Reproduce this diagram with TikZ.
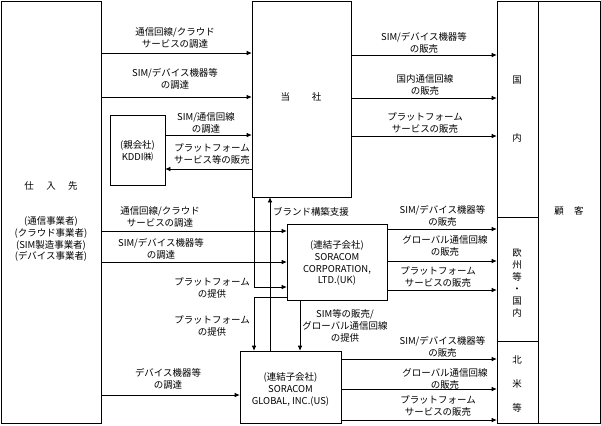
\documentclass[tikz,border=0pt]{standalone}
\usepackage{fontspec}
\newfontfamily\jp{Noto Sans CJK JP}
\usetikzlibrary{arrows.meta}
\begin{document}
\begin{tikzpicture}[x=1bp,y=-1bp,
  box/.style={draw,line width=0.6bp,inner sep=0pt},
  txt/.style={font=\jp\fontsize{9.5}{12}\selectfont,align=center,inner sep=0pt},
  arr/.style={line width=0.6bp,-{Latex[length=5bp,width=4.5bp]}},
  ln/.style={line width=0.6bp}]
\useasboundingbox (0,0) rectangle (601,425);
% boxes
\node[box,minimum width=100bp,minimum height=422bp] (sup) at (51,212) {};
\node[box,minimum width=99bp,minimum height=196bp] (toh) at (301.5,99) {};
\node[box,minimum width=55bp,minimum height=70bp] (kddi) at (137.5,150) {};
\node[box,minimum width=100bp,minimum height=76bp] (uk) at (337,262) {};
\node[box,minimum width=101bp,minimum height=72bp] (us) at (290.5,387) {};
\node[box,minimum width=41bp,minimum height=216bp] (dom) at (517.5,109) {};
\node[box,minimum width=41bp,minimum height=124bp] (eu) at (517.5,279) {};
\node[box,minimum width=41bp,minimum height=82bp] (na) at (517.5,382) {};
\node[box,minimum width=62bp,minimum height=422bp] (cust) at (569,212) {};
% box texts
\node[txt] (supname) at (51,186) {仕\hspace{1.3em}入\hspace{1.3em}先};
\node[txt] (supkind) at (51,239) {(通信事業者)\\(クラウド事業者)\\(SIM製造事業者)\\(デバイス事業者)};
\node[txt] (tohname) at (301,97) {当\hspace{2.3em}社};
\node[txt] (kddiname) at (137.5,151) {(親会社)\\KDDI㈱};
\node[txt] (ukname) at (337,263) {(連結子会社)\\SORACOM\\CORPORATION,\\LTD.(UK)};
\node[txt] (usname) at (290.5,389.5) {(連結子会社)\\SORACOM\\GLOBAL, INC.(US)};
\node[txt] (dom1) at (517,80) {国};
\node[txt] (dom2) at (517,138) {内};
\node[txt] (euname) at (517,283) {欧\\州\\等\\・\\国\\内};
\node[txt] (na1) at (517,360) {北};
\node[txt] (na2) at (517,384) {米};
\node[txt] (na3) at (517,408) {等};
\node[txt] (custname) at (569,211) {顧\hspace{1.1em}客};
% arrows top
\draw[arr] (sup.east |- 0,53) -- (toh.west |- 0,53);
\draw[arr] (sup.east |- 0,97) -- (toh.west |- 0,97);
\draw[arr] (kddi.east |- 0,135) -- (toh.west |- 0,135);
\draw[arr] (toh.west |- 0,169) -- (kddi.east |- 0,169);
\draw[arr] (toh.east |- 0,55) -- (dom.west |- 0,55);
\draw[arr] (toh.east |- 0,98) -- (dom.west |- 0,98);
\draw[arr] (toh.east |- 0,136) -- (dom.west |- 0,136);
% arrows lower
\draw[arr] (sup.east |- 0,231) -- (uk.west |- 0,231);
\draw[arr] (sup.east |- 0,262) -- (uk.west |- 0,262);
\draw[arr] (toh.south -| 254,0) |- (uk.west |- 0,287);
\draw[arr] (uk.west |- 0,297) -| (us.north -| 254,0);
\draw[arr] (us.north -| 270,0) -- (toh.south -| 270,0);
\draw[arr] (uk.south -| 300,0) -- (us.north -| 300,0);
\draw[arr] (sup.east |- 0,395) -- (us.west |- 0,395);
\draw[arr] (uk.east |- 0,229) -- (eu.west |- 0,229);
\draw[arr] (uk.east |- 0,261) -- (eu.west |- 0,261);
\draw[arr] (uk.east |- 0,290) -- (eu.west |- 0,290);
\draw[arr] (us.east |- 0,359) -- (na.west |- 0,359);
\draw[arr] (us.east |- 0,389) -- (na.west |- 0,389);
\draw[arr] (us.east |- 0,420) -- (na.west |- 0,420);
% labels
\node[txt] (l1) at (175,38) {通信回線/クラウド\\サービスの調達};
\node[txt] (l2) at (175,79) {SIM/デバイス機器等\\の調達};
\node[txt] (l3) at (206,122.5) {SIM/通信回線\\の調達};
\node[txt] (l4) at (212,154) {プラットフォーム\\サービス等の販売};
\node[txt] (r1) at (424,43) {SIM/デバイス機器等\\の販売};
\node[txt] (r2) at (425,85) {国内通信回線\\の販売};
\node[txt] (r3) at (425,123) {プラットフォーム\\サービスの販売};
\node[txt] (m1) at (160,216.5) {通信回線/クラウド\\サービスの調達};
\node[txt] (m2) at (161,249) {SIM/デバイス機器等\\の調達};
\node[txt] (m3) at (212,288) {プラットフォーム\\の提供};
\node[txt] (m4) at (212,326) {プラットフォーム\\の提供};
\node[txt] (m5) at (168,379) {デバイス機器等\\の調達};
\node[txt] (brand) at (311,212) {ブランド構築支援};
\node[txt] (simuk) at (345,326) {SIM等の販売/\\グローバル通信回線\\の提供};
\node[txt] (u1) at (442.5,216) {SIM/デバイス機器等\\の販売};
\node[txt] (u2) at (445,245.5) {グローバル通信回線\\の販売};
\node[txt] (u3) at (438,276.5) {プラットフォーム\\サービスの販売};
\node[txt] (s1) at (442.5,347) {SIM/デバイス機器等\\の販売};
\node[txt] (s2) at (445,378.5) {グローバル通信回線\\の販売};
\node[txt] (s3) at (438,405.5) {プラットフォーム\\サービスの販売};
\end{tikzpicture}
\end{document}
